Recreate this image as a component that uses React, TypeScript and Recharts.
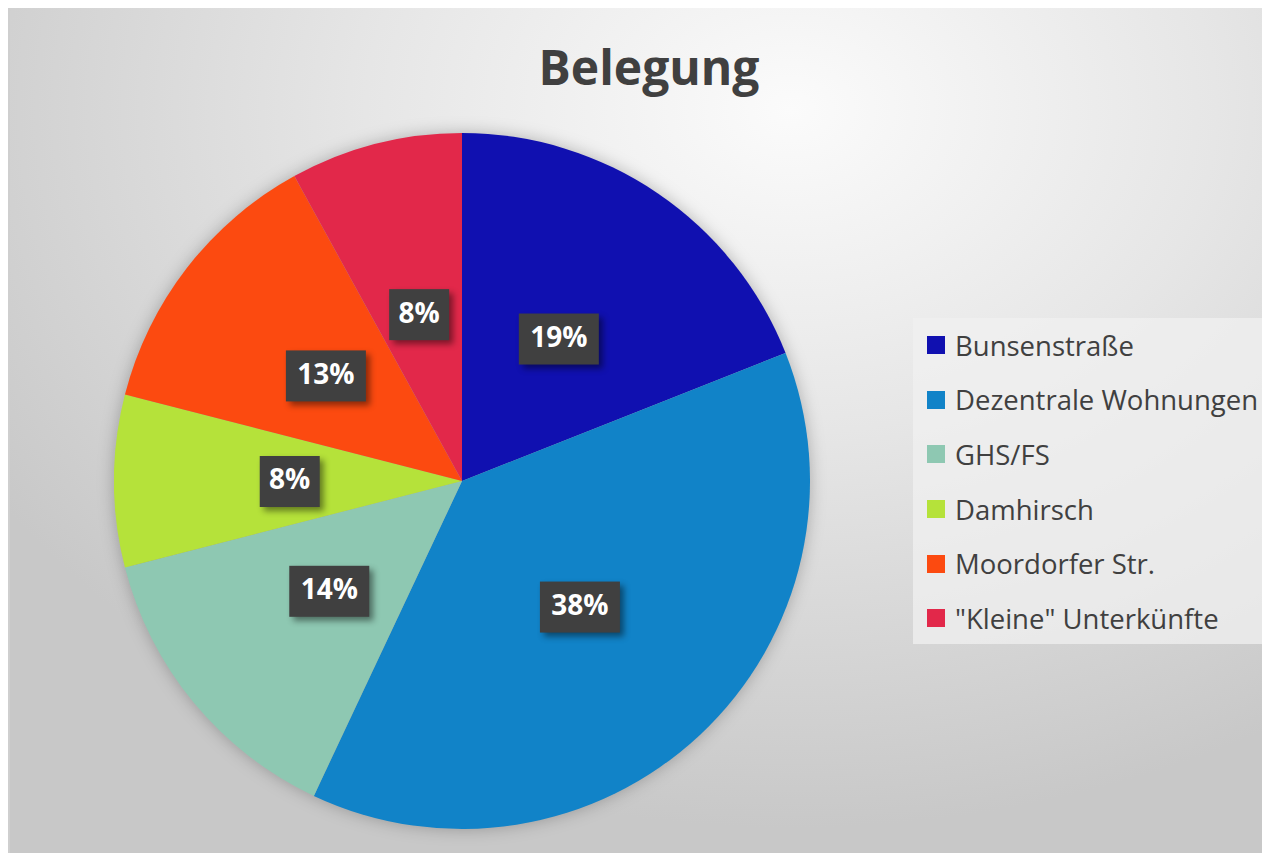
import { PieChart, Pie, Cell, Legend } from "recharts";

const categories = [
  "Bunsenstraße",
  "Dezentrale Wohnungen",
  "GHS/FS",
  "Damhirsch",
  "Moordorfer Str.",
  "\"Kleine\" Unterkünfte",
];
const shares = [19, 38, 14, 8, 13, 8];
const colors = ["#1010B0", "#1183C8", "#8EC8B2", "#B5E23A", "#FC4A10", "#E2284A"];

const data = categories.map((name, i) => ({ name, value: shares[i] }));

const RAD = Math.PI / 180;
const font = "'Open Sans', 'DejaVu Sans', sans-serif";

function renderLabel(props: any) {
  const { cx, cy, midAngle, outerRadius, value } = props;
  const r = outerRadius * 0.495;
  const x = cx + r * Math.cos(-midAngle * RAD);
  const y = cy + r * Math.sin(-midAngle * RAD);
  const text = `${value}%`;
  const w = text.length === 2 ? 60 : 80;
  return (
    <g>
      <rect
        x={x - w / 2}
        y={y - 25}
        width={w}
        height={51}
        fill="#404040"
        style={{ filter: "drop-shadow(4px 4px 3px rgba(0,0,0,0.45))" }}
      />
      <text
        x={x}
        y={y + 1}
        fill="#ffffff"
        textAnchor="middle"
        dominantBaseline="middle"
        fontFamily={font}
        fontWeight={700}
        fontSize={28}
      >
        {text}
      </text>
    </g>
  );
}

function LegendBox() {
  return (
    <div
      style={{
        background: "rgba(240,240,240,0.75)",
        width: 357,
        height: 326,
        boxSizing: "border-box",
        paddingTop: 0,
        paddingLeft: 14,
      }}
    >
      {data.map((d, i) => (
        <div
          key={d.name}
          style={{ display: "flex", alignItems: "center", height: 54.6 }}
        >
          <div style={{ width: 18, height: 18, background: colors[i], marginRight: 10 }} />
          <span style={{ fontFamily: font, fontSize: 27.5, color: "#404040", whiteSpace: "nowrap" }}>
            {d.name}
          </span>
        </div>
      ))}
    </div>
  );
}

export default function App() {
  return (
    <div
      style={{
        position: "relative",
        width: 1262,
        height: 847,
        marginTop: -2,
        borderTop: "2px solid #cfcfcf",
        borderLeft: "2px solid #cfcfcf",
        boxSizing: "border-box",
        background:
          "radial-gradient(ellipse 75% 85% at 62% 12%, #fbfbfb 0%, #e6e6e6 45%, #c8c8c8 100%)",
      }}
    >
      <style>{`.recharts-pie { filter: drop-shadow(0 0 8px rgba(0,0,0,0.25)); }`}</style>
      <div
        style={{
          position: "absolute",
          left: 0,
          width: "100%",
          top: 29,
          textAlign: "center",
          fontFamily: font,
          fontWeight: 700,
          fontSize: 48,
          color: "#404040",
          lineHeight: "60px",
          transform: "translateX(9px)",
        }}
      >
        Belegung
      </div>
      <div style={{ position: "absolute", left: 0, top: 0 }}>
        <PieChart width={1260} height={845}>
          <Pie
            data={data}
            dataKey="value"
            nameKey="name"
            cx={447}
            cy={468}
            outerRadius={348}
            startAngle={90}
            endAngle={-270}
            stroke="none"
            labelLine={false}
            label={renderLabel}
            isAnimationActive={false}
          >
            {data.map((d, i) => (
              <Cell key={d.name} fill={colors[i]} />
            ))}
          </Pie>
          <Legend
            content={() => <LegendBox />}
            wrapperStyle={{ position: "absolute", left: 903, top: 310, width: 357 }}
          />
        </PieChart>
      </div>
    </div>
  );
}
